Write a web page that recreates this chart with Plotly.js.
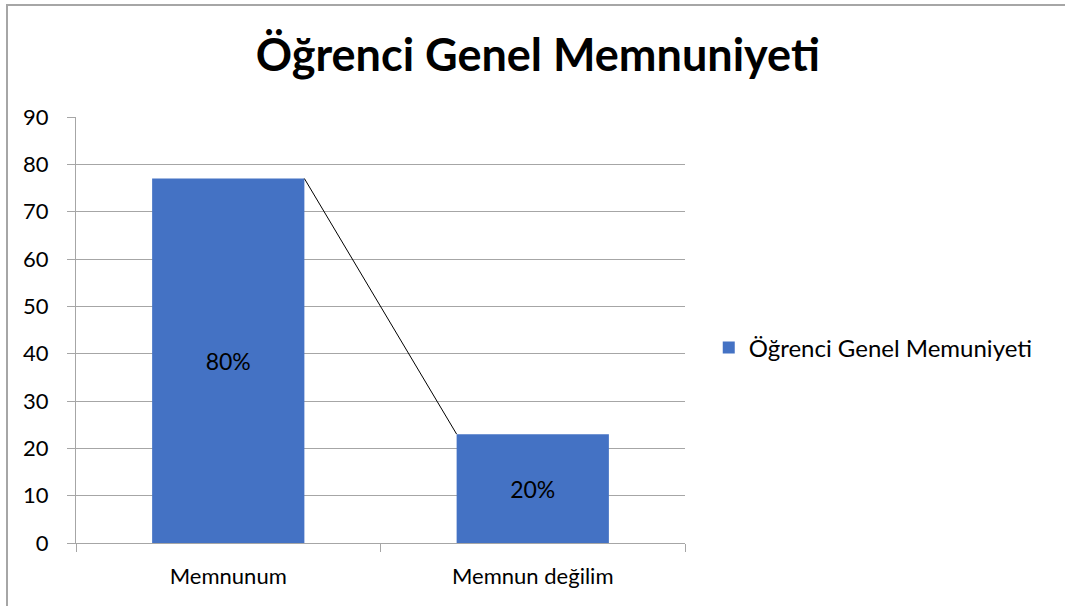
<!DOCTYPE html>
<html>
<head>
<meta charset="utf-8">
<script src="https://cdn.plot.ly/plotly-3.0.1.min.js"></script>
<style>
  html, body { margin: 0; padding: 0; background: #fff; }
  #chart { position: absolute; left: 0; top: 0; width: 1065px; height: 606px; }
  #frame { position: absolute; left: 6px; top: 4px; width: 1070px; height: 620px;
           border-left: 2px solid #a6a6a6; border-top: 2px solid #a6a6a6; pointer-events: none; }
</style>
</head>
<body>
<div id="chart"></div>
<div id="frame"></div>
<script>
const categories = ['Memnunum', 'Memnun değilim'];
const values = [77, 23];
const dataLabels = ['80%', '20%'];
const seriesName = 'Öğrenci Genel Memuniyeti';
const chartTitle = 'Öğrenci Genel Memnuniyeti';
const yTicks = [0, 10, 20, 30, 40, 50, 60, 70, 80, 90];

const barWidth = 0.5;
const font = 'Lato, "Open Sans", sans-serif';

const trace = {
  type: 'bar',
  x: categories,
  y: values,
  name: seriesName,
  text: dataLabels,
  textposition: 'inside',
  insidetextanchor: 'middle',
  textfont: { family: font, size: 23, color: '#000' },
  marker: { color: '#4472C4' },
  width: barWidth,
  hoverinfo: 'x+y',
  showlegend: true
};

// series line connecting the tops of the bars (Excel "series lines")
const seriesLines = [];
for (let i = 0; i < values.length - 1; i++) {
  seriesLines.push({
    type: 'line', xref: 'x', yref: 'y',
    x0: i + barWidth / 2, y0: values[i],
    x1: i + 1 - barWidth / 2, y1: values[i + 1],
    line: { color: '#000', width: 1 }
  });
}

const layout = {
  width: 1065, height: 606,
  margin: { l: 76, r: 380, t: 117, b: 63 },
  paper_bgcolor: '#fff', plot_bgcolor: '#fff',
  font: { family: font, size: 22, color: '#000' },
  title: {
    text: '<b>' + chartTitle + '</b>',
    font: { family: font, size: 45, color: '#000' },
    xref: 'container', yref: 'container',
    x: 0.505, xanchor: 'center', y: 0.909, yanchor: 'middle'
  },
  xaxis: {
    type: 'category',
    range: [-0.5, 1.5],
    showline: true, linecolor: '#a6a6a6', linewidth: 1,
    ticks: 'outside', tickson: 'boundaries', ticklen: 8, tickcolor: '#a6a6a6',
    showgrid: false,
    tickfont: { family: font, size: 22, color: '#000' },
    ticklabelstandoff: 14
  },
  yaxis: {
    range: [0, 90],
    tickvals: yTicks,
    showline: true, linecolor: '#a6a6a6', linewidth: 1,
    ticks: 'outside', ticklen: 8, tickcolor: '#a6a6a6',
    showgrid: true, gridcolor: '#a6a6a6', gridwidth: 1,
    zeroline: false,
    tickfont: { family: font, size: 22, color: '#000' },
    ticklabelstandoff: 14
  },
  legend: {
    x: 1.039, xanchor: 'left', y: 0.458, yanchor: 'middle',
    font: { family: font, size: 24, color: '#000' },
    itemwidth: 30, bgcolor: 'rgba(0,0,0,0)'
  },
  shapes: seriesLines
};

Plotly.newPlot('chart', [trace], layout, { displayModeBar: false, staticPlot: true });
</script>
</body>
</html>
